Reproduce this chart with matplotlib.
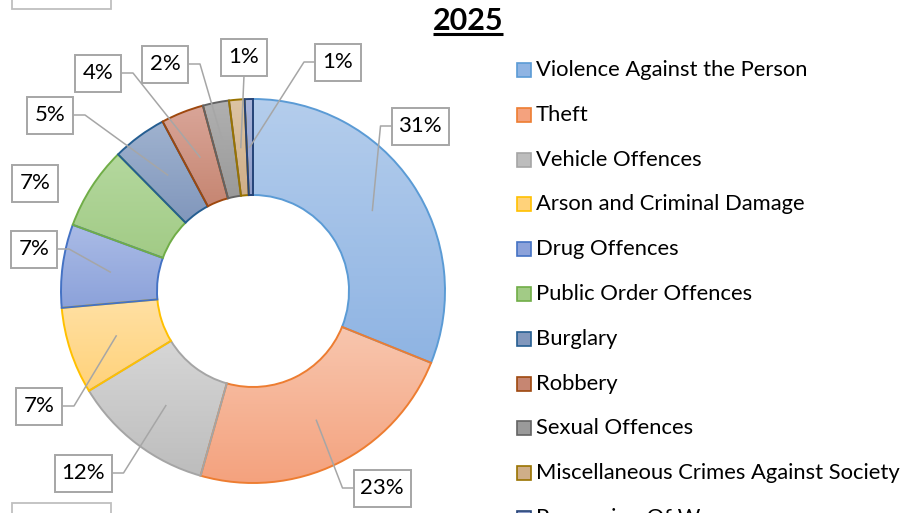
import numpy as np
import matplotlib.pyplot as plt
from matplotlib.colors import LinearSegmentedColormap
from matplotlib.patches import Rectangle

categories = ['Violence Against the Person', 'Theft', 'Vehicle Offences',
              'Arson and Criminal Damage', 'Drug Offences', 'Public Order Offences',
              'Burglary', 'Robbery', 'Sexual Offences',
              'Miscellaneous Crimes Against Society', 'Possession Of Weapons']
shares = [31.1, 23.3, 11.9, 7.3, 7.0, 7.0, 4.6, 3.6, 2.2, 1.3, 0.7]
title = '2025'

# styles (gradient top, gradient bottom, edge)
top_cols = ['#B4CDEC', '#F8C6AE', '#D6D6D6', '#FFE0A3', '#AABBE6', '#B4D89E',
            '#9FB2CF', '#D9A598', '#B0B0B0', '#DCC4A4', '#A8B4DA']
bot_cols = ['#8FB4E3', '#F4A27E', '#BDBDBD', '#FFD27A', '#8CA2DA', '#A2CB86',
            '#8197BC', '#C68672', '#9A9A9A', '#CFAE88', '#8E9CC8']
edge_cols = ['#5B9BD5', '#ED7D31', '#A5A5A5', '#FFC000', '#4472C4', '#70AD47',
             '#255E91', '#9E480E', '#636363', '#997300', '#264478']

# label box centres in pixels (layout)
box_pos = [(420, 126), (382, 488), (83, 473), (39, 406), (34, 249), (35, 183),
           (50, 115), (98, 73), (165, 64), (244, 57), (338, 62)]
leader = [True, True, True, True, True, False, True, True, True, True, True]

W, H = 906, 513
cx, cy, R, hole = 253, 291, 192, 96
FONT = 'Lato'

fig = plt.figure(figsize=(W / 100, H / 100), dpi=100)
ax = fig.add_axes([0, 0, 1, 1])

wedges, _ = ax.pie(shares, center=(cx, cy), radius=R, startangle=-90,
                   counterclock=True, wedgeprops=dict(width=R - hole))

for i, w in enumerate(wedges):
    w.set_facecolor('none')
    w.set_edgecolor(edge_cols[i])
    w.set_linewidth(1.4)
    w.set_zorder(3)
    ext = w.get_path().get_extents()
    cmap = LinearSegmentedColormap.from_list('g%d' % i, [top_cols[i], bot_cols[i]])
    grad = np.linspace(0, 1, 64).reshape(-1, 1)
    im = ax.imshow(grad, cmap=cmap, origin='upper', aspect='auto',
                   extent=(ext.x0, ext.x1, ext.y1, ext.y0), zorder=2)
    im.set_clip_path(w)

# data labels with leader lines
for i, w in enumerate(wedges):
    mid = np.deg2rad((w.theta1 + w.theta2) / 2)
    r = (R + hole) / 2
    ax_, ay_ = cx + r * np.cos(mid), cy + r * np.sin(mid)
    bx, by = box_pos[i]
    lab = f'{shares[i]:.0f}%'
    half = 23 if len(lab) == 2 else 28.5
    ax.add_patch(Rectangle((bx - half, by - 18.5), 2 * half, 37, fc='white',
                           ec='#A6A6A6', lw=1.4, zorder=6))
    ax.text(bx, by, lab, ha='center', va='center', fontsize=16, family=FONT, zorder=7)
    if not leader[i]:
        continue
    if ax_ < bx - half:
        pts = [(ax_, ay_), (bx - half - 11, by), (bx - half, by)]
    elif ax_ > bx + half:
        pts = [(ax_, ay_), (bx + half + 12, by), (bx + half, by)]
    else:
        pts = [(ax_, ay_), (bx, by + 18.5)]
    xs, ys = zip(*pts)
    ax.plot(xs, ys, color='#A6A6A6', lw=1.1, zorder=5)

# legend
for i, name in enumerate(categories):
    y = 70 + i * 44.8
    ax.add_patch(Rectangle((517, y - 7), 14, 14, fc=bot_cols[i], ec=edge_cols[i],
                           lw=1.2, zorder=4))
    ax.text(536, y, name, ha='left', va='center', fontsize=15.8, family=FONT, zorder=4)

ax.set_xlim(0, W)
ax.set_ylim(H, 0)
ax.axis('off')

# title with underline
t = ax.text(468, 21, title, ha='center', va='center', fontsize=22,
            fontweight='bold', family=FONT)
fig.canvas.draw()
bb = t.get_window_extent().transformed(ax.transData.inverted())
ax.plot([min(bb.x0, bb.x1), max(bb.x0, bb.x1)], [34, 34], color='black', lw=2.2,
        solid_capstyle='butt')

# partial boxes of neighbouring labels, cut by the frame
for yb in (-20, 503):
    ax.add_patch(Rectangle((12, yb), 99, 29, fc='white', ec='#BFBFBF', lw=1.3))

ax.set_xlim(0, W)
ax.set_ylim(H, 0)
fig.savefig('out.png', dpi=100)
